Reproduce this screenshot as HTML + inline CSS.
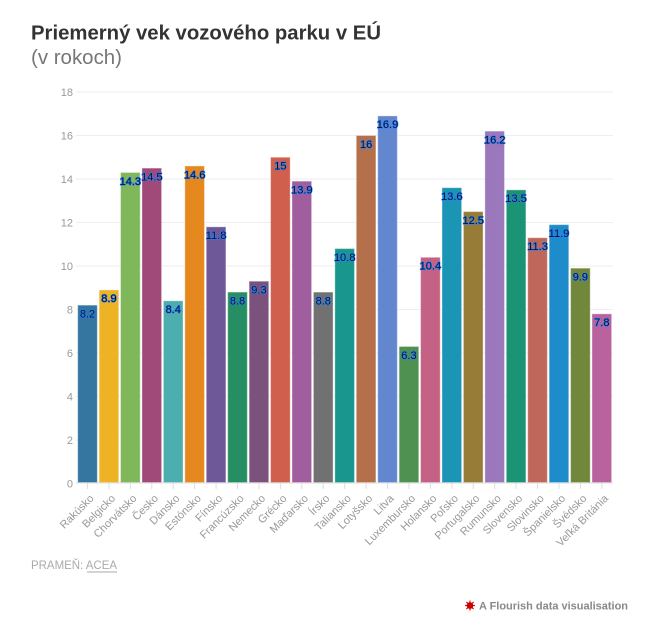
<!DOCTYPE html>
<html>
<head>
<meta charset="utf-8">
<style>
html,body{margin:0;padding:0;background:#fff;}
svg{display:block;}
text{font-family:"Liberation Sans",Arial,sans-serif;}
.yl{font-size:11px;fill:#999;text-anchor:end;}
.xl{font-size:11px;fill:#999;text-anchor:end;}
.vl{font-size:11px;fill:#02122e;stroke:#2a7fff;stroke-width:1.2px;paint-order:stroke;text-anchor:middle;stroke-linejoin:round;}
.bar{stroke:rgba(255,255,255,0.35);stroke-width:1;}
</style>
</head>
<body>
<svg width="655" height="626" viewBox="0 0 655 626" xmlns="http://www.w3.org/2000/svg">
<rect width="655" height="626" fill="#fff"/>
<text x="31" y="39.5" font-size="20" font-weight="bold" fill="#333" textLength="350" lengthAdjust="spacingAndGlyphs">Priemerný vek vozového parku v EÚ</text>
<text x="31" y="64" font-size="20" fill="#777" textLength="91" lengthAdjust="spacingAndGlyphs">(v rokoch)</text>

<g stroke="#eee" stroke-width="1">
<line x1="76" x2="613" y1="92" y2="92"/>
<line x1="76" x2="613" y1="135.5" y2="135.5"/>
<line x1="76" x2="613" y1="179" y2="179"/>
<line x1="76" x2="613" y1="222.5" y2="222.5"/>
<line x1="76" x2="613" y1="266" y2="266"/>
<line x1="76" x2="613" y1="309.5" y2="309.5"/>
<line x1="76" x2="613" y1="353" y2="353"/>
<line x1="76" x2="613" y1="396.5" y2="396.5"/>
<line x1="76" x2="613" y1="440" y2="440"/>
</g>
<g class="yl">
<text x="73" y="96" class="yl">18</text>
<text x="73" y="139.5" class="yl">16</text>
<text x="73" y="183" class="yl">14</text>
<text x="73" y="226.5" class="yl">12</text>
<text x="73" y="270" class="yl">10</text>
<text x="73" y="313.5" class="yl">8</text>
<text x="73" y="357" class="yl">6</text>
<text x="73" y="400.5" class="yl">4</text>
<text x="73" y="444" class="yl">2</text>
<text x="73" y="487.5" class="yl">0</text>
</g>

<g class="bar">
<rect x="77.7" y="305.15" width="19.6" height="177.35" fill="#34769f"/>
<rect x="99.13" y="289.92" width="19.6" height="192.58" fill="#eeb325"/>
<rect x="120.56" y="172.47" width="19.6" height="310.03" fill="#80b75a"/>
<rect x="141.99" y="168.12" width="19.6" height="314.38" fill="#a04a79"/>
<rect x="163.42" y="300.8" width="19.6" height="181.7" fill="#4caeae"/>
<rect x="184.85" y="165.95" width="19.6" height="316.55" fill="#e5891f"/>
<rect x="206.28" y="226.85" width="19.6" height="255.65" fill="#6e5898"/>
<rect x="227.71" y="292.1" width="19.6" height="190.4" fill="#268e63"/>
<rect x="249.14" y="281.22" width="19.6" height="201.28" fill="#7b527c"/>
<rect x="270.57" y="157.25" width="19.6" height="325.25" fill="#d05f4e"/>
<rect x="292" y="181.17" width="19.6" height="301.33" fill="#a15e9e"/>
<rect x="313.43" y="292.1" width="19.6" height="190.4" fill="#717171"/>
<rect x="334.86" y="248.6" width="19.6" height="233.9" fill="#19978e"/>
<rect x="356.29" y="135.5" width="19.6" height="347" fill="#b4704b"/>
<rect x="377.72" y="115.92" width="19.6" height="366.58" fill="#6287cf"/>
<rect x="399.15" y="346.47" width="19.6" height="136.03" fill="#4f9150"/>
<rect x="420.58" y="257.3" width="19.6" height="225.2" fill="#c36285"/>
<rect x="442.01" y="187.7" width="19.6" height="294.8" fill="#1a95b5"/>
<rect x="463.44" y="211.62" width="19.6" height="270.88" fill="#977c37"/>
<rect x="484.87" y="131.15" width="19.6" height="351.35" fill="#9b78bc"/>
<rect x="506.3" y="189.87" width="19.6" height="292.63" fill="#1a9474"/>
<rect x="527.73" y="237.72" width="19.6" height="244.78" fill="#c0675b"/>
<rect x="549.16" y="224.67" width="19.6" height="257.83" fill="#1e8ccb"/>
<rect x="570.59" y="268.17" width="19.6" height="214.33" fill="#71883c"/>
<rect x="592.02" y="313.85" width="19.6" height="168.65" fill="#b8639e"/>
</g>

<line x1="76" x2="613" y1="483" y2="483" stroke="#ddd" stroke-width="1"/>
<g stroke="#ddd" stroke-width="1">
<line x1="87.5" x2="87.5" y1="483" y2="489"/>
<line x1="108.93" x2="108.93" y1="483" y2="489"/>
<line x1="130.36" x2="130.36" y1="483" y2="489"/>
<line x1="151.79" x2="151.79" y1="483" y2="489"/>
<line x1="173.22" x2="173.22" y1="483" y2="489"/>
<line x1="194.65" x2="194.65" y1="483" y2="489"/>
<line x1="216.08" x2="216.08" y1="483" y2="489"/>
<line x1="237.51" x2="237.51" y1="483" y2="489"/>
<line x1="258.94" x2="258.94" y1="483" y2="489"/>
<line x1="280.37" x2="280.37" y1="483" y2="489"/>
<line x1="301.8" x2="301.8" y1="483" y2="489"/>
<line x1="323.23" x2="323.23" y1="483" y2="489"/>
<line x1="344.66" x2="344.66" y1="483" y2="489"/>
<line x1="366.09" x2="366.09" y1="483" y2="489"/>
<line x1="387.52" x2="387.52" y1="483" y2="489"/>
<line x1="408.95" x2="408.95" y1="483" y2="489"/>
<line x1="430.38" x2="430.38" y1="483" y2="489"/>
<line x1="451.81" x2="451.81" y1="483" y2="489"/>
<line x1="473.24" x2="473.24" y1="483" y2="489"/>
<line x1="494.67" x2="494.67" y1="483" y2="489"/>
<line x1="516.1" x2="516.1" y1="483" y2="489"/>
<line x1="537.53" x2="537.53" y1="483" y2="489"/>
<line x1="558.96" x2="558.96" y1="483" y2="489"/>
<line x1="580.39" x2="580.39" y1="483" y2="489"/>
<line x1="601.82" x2="601.82" y1="483" y2="489"/>
</g>

<g>
<text class="vl" x="87.5" y="317.45">8.2</text>
<text class="vl" x="108.93" y="302.22">8.9</text>
<text class="vl" x="130.36" y="184.77">14.3</text>
<text class="vl" x="151.79" y="180.42">14.5</text>
<text class="vl" x="173.22" y="313.1">8.4</text>
<text class="vl" x="194.65" y="178.25">14.6</text>
<text class="vl" x="216.08" y="239.15">11.8</text>
<text class="vl" x="237.51" y="304.4">8.8</text>
<text class="vl" x="258.94" y="293.52">9.3</text>
<text class="vl" x="280.37" y="169.55">15</text>
<text class="vl" x="301.8" y="193.47">13.9</text>
<text class="vl" x="323.23" y="304.4">8.8</text>
<text class="vl" x="344.66" y="260.9">10.8</text>
<text class="vl" x="366.09" y="147.8">16</text>
<text class="vl" x="387.52" y="128.22">16.9</text>
<text class="vl" x="408.95" y="358.77">6.3</text>
<text class="vl" x="430.38" y="269.6">10.4</text>
<text class="vl" x="451.81" y="200">13.6</text>
<text class="vl" x="473.24" y="223.92">12.5</text>
<text class="vl" x="494.67" y="143.45">16.2</text>
<text class="vl" x="516.1" y="202.17">13.5</text>
<text class="vl" x="537.53" y="250.02">11.3</text>
<text class="vl" x="558.96" y="236.97">11.9</text>
<text class="vl" x="580.39" y="280.47">9.9</text>
<text class="vl" x="601.82" y="326.15">7.8</text>
</g>

<g class="xl">
<text class="xl" transform="translate(94.5,499) rotate(-45)">Rakúsko</text>
<text class="xl" transform="translate(115.93,499) rotate(-45)">Belgicko</text>
<text class="xl" transform="translate(137.36,499) rotate(-45)">Chorvátsko</text>
<text class="xl" transform="translate(158.79,499) rotate(-45)">Česko</text>
<text class="xl" transform="translate(180.22,499) rotate(-45)">Dánsko</text>
<text class="xl" transform="translate(201.65,499) rotate(-45)">Estónsko</text>
<text class="xl" transform="translate(223.08,499) rotate(-45)">Fínsko</text>
<text class="xl" transform="translate(244.51,499) rotate(-45)">Francúzsko</text>
<text class="xl" transform="translate(265.94,499) rotate(-45)">Nemecko</text>
<text class="xl" transform="translate(287.37,499) rotate(-45)">Grécko</text>
<text class="xl" transform="translate(308.8,499) rotate(-45)">Maďarsko</text>
<text class="xl" transform="translate(330.23,499) rotate(-45)">Írsko</text>
<text class="xl" transform="translate(351.66,499) rotate(-45)">Taliansko</text>
<text class="xl" transform="translate(373.09,499) rotate(-45)">Lotyšsko</text>
<text class="xl" transform="translate(394.52,499) rotate(-45)">Litva</text>
<text class="xl" transform="translate(415.95,499) rotate(-45)">Luxembursko</text>
<text class="xl" transform="translate(437.38,499) rotate(-45)">Holansko</text>
<text class="xl" transform="translate(458.81,499) rotate(-45)">Poľsko</text>
<text class="xl" transform="translate(480.24,499) rotate(-45)">Portugalsko</text>
<text class="xl" transform="translate(501.67,499) rotate(-45)">Rumunsko</text>
<text class="xl" transform="translate(523.1,499) rotate(-45)">Slovensko</text>
<text class="xl" transform="translate(544.53,499) rotate(-45)">Slovinsko</text>
<text class="xl" transform="translate(565.96,499) rotate(-45)">Španielsko</text>
<text class="xl" transform="translate(587.39,499) rotate(-45)">Švédsko</text>
<text class="xl" transform="translate(608.82,499) rotate(-45)">Veľká Británia</text>
</g>

<text x="31" y="569" font-size="12" fill="#aaa" textLength="86" lengthAdjust="spacingAndGlyphs">PRAMEŇ: ACEA</text>
<line x1="87" x2="117" y1="572" y2="572" stroke="#aaa" stroke-width="1"/>

<g transform="translate(470,605.5)">
<g stroke="#d11" stroke-width="1.2">
<line x1="-5" y1="0" x2="5" y2="0"/>
<line x1="0" y1="-5" x2="0" y2="5"/>
<line x1="-3.6" y1="-3.6" x2="3.6" y2="3.6"/>
<line x1="-3.6" y1="3.6" x2="3.6" y2="-3.6"/>
</g>
<circle r="3.3" fill="#c00"/>
</g>
<text x="479" y="609.5" font-size="11" font-weight="bold" fill="#888" textLength="149" lengthAdjust="spacingAndGlyphs">A Flourish data visualisation</text>
</svg>
</body>
</html>
